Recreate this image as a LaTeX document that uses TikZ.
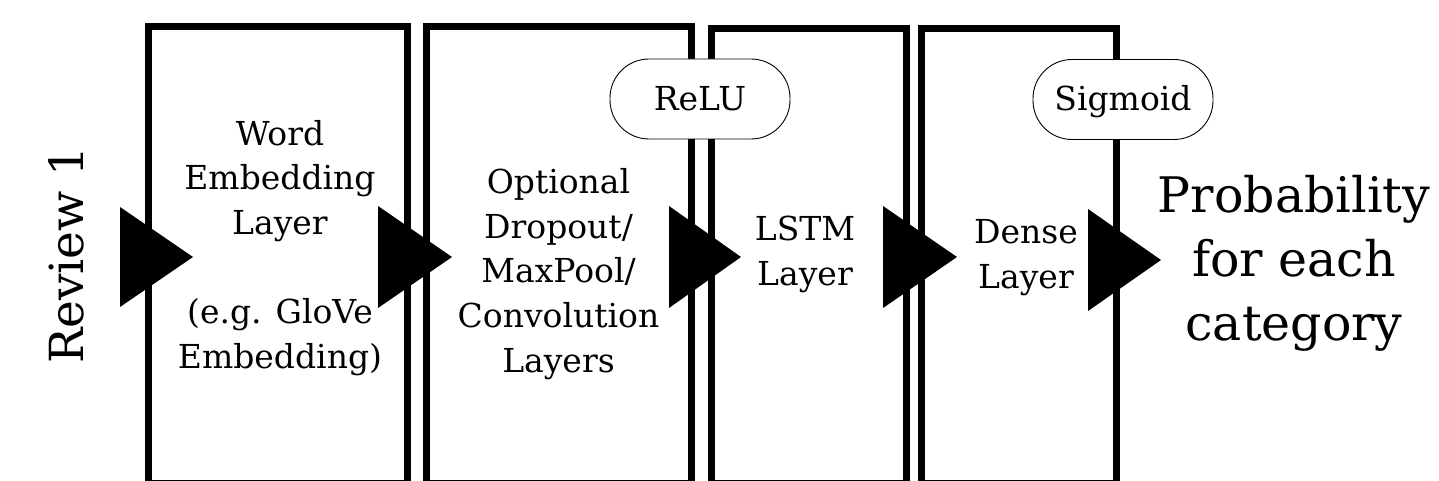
\documentclass[tikz,border=0pt]{standalone}
\usepackage{fontspec}
\setmainfont{DejaVu Serif}
\begin{document}
\begin{tikzpicture}[x=1pt,y=-1pt,
  layerbox/.style={draw=black, line width=7pt, inner sep=0pt, outer sep=0pt},
  lbl/.style={font=\fontsize{33}{44.6}\selectfont, align=center, inner sep=0pt, anchor=base},
  act/.style={draw=black, line width=0.9pt, fill=white, rounded corners=39pt,
    minimum width=180pt, minimum height=80pt, inner sep=0pt,
    text height=24pt, text depth=1pt, font=\fontsize{33}{40}\selectfont},
  big/.style={font=\fontsize{49}{64}\selectfont, align=center, inner sep=0pt, anchor=base},
  tri/.style={fill=black}]
\useasboundingbox (0,0) rectangle (1439,481);
\clip (0,0) rectangle (1439,481);
% layer boxes
\node[layerbox, minimum width=258.5pt, minimum height=456.5pt] (b1) at (277.75,255.25) {};
\node[layerbox, minimum width=265pt, minimum height=456.5pt] (b2) at (558.5,255.25) {};
\node[layerbox, minimum width=195pt, minimum height=455pt] (b3) at (808.5,256) {};
\node[layerbox, minimum width=194.5pt, minimum height=455pt] (b4) at (1018.75,256) {};
% activation labels
\node[act] (relu) at (700,99) {ReLU};
\node[act] (sig) at (1123,99.5) {Sigmoid};
% arrow heads
\fill[tri] (120,207) -- (193,257) -- (120,307) -- cycle;
\fill[tri] (378,206) -- (452,257) -- (378,308) -- cycle;
\fill[tri] (669,206) -- (741,257) -- (669,308) -- cycle;
\fill[tri] (883,206) -- (957,257) -- (883,308) -- cycle;
\fill[tri] (1088,209) -- (1161,260) -- (1088,311) -- cycle;
% texts (base anchor = baseline of the last line)
\node[font=\fontsize{47}{56}\selectfont, rotate=90, anchor=base, inner sep=0pt] (rev) at (83,255) {Review 1};
\node[lbl] (t1) at (280,368) {Word\\Embedding\\Layer\\[44.6pt](e.g. GloVe\\Embedding)};
\node[lbl] (t2) at (558.5,372) {Optional\\Dropout/\\MaxPool/\\Convolution\\Layers};
\node[lbl] (t3) at (805,285) {LSTM\\Layer};
\node[lbl] (t4) at (1026,288) {Dense\\Layer};
\node[big] (out) at (1294,340) {Probability\\for each\\category};
\end{tikzpicture}
\end{document}
